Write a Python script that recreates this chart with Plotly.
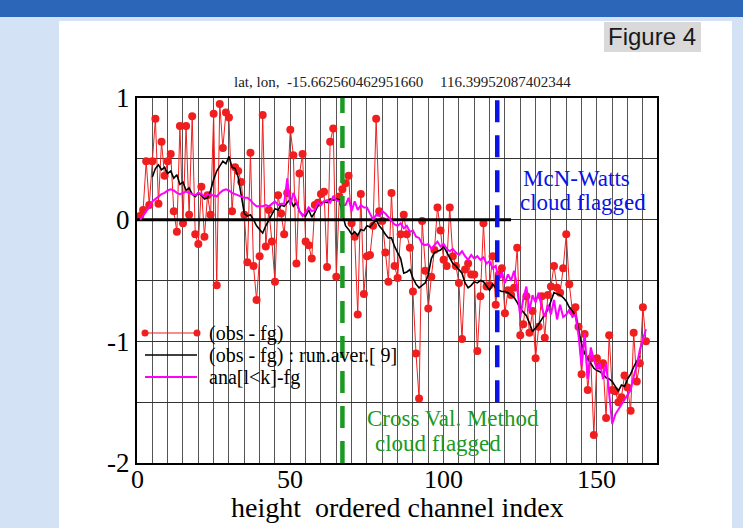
import plotly.graph_objects as go

# ---------------- data ----------------
channels = list(range(1, 167))
obs_minus_fg = [
    0.03, 0.08, 0.48, 0.12, 0.48, 0.83, 0.13, 0.64, 0.36, 0.48,
    0.54, 0.07, -0.10, 0.77, -0.03, 0.77, 0.04, 0.85, -0.12, -0.20,
    0.27, -0.14, 0.20, 0.04, 0.87, -0.54, 0.95, 0.59, 0.88, 0.84,
    0.07, 0.43, 0.40, 0.31, 0.04, -0.35, 0.55, -0.38, -0.66, -0.30,
    0.86, -0.22, 0.08, -0.18, -0.51, 0.20, 0.05, -0.12, 0.22, 0.74,
    0.53, -0.36, 0.38, 0.54, -0.18, -0.21, -0.32, 0.12, 0.14, 0.21,
    0.23, -0.39, 0.64, 0.75, -0.47, 0.19, 0.25, 0.30, 0.36, -0.03,
    -0.14, -0.78, 0.21, -0.61, -0.30, -0.29, -0.05, 0.83, 0.07, -0.01,
    -0.27, -0.51, 0.22, -0.38, -0.48, -0.12, 0.04, -0.12, -0.23, -0.59,
    -1.10, -1.47, -0.01, -0.42, -0.73, -0.47, -0.25, 0.10, -0.09, -0.33,
    -0.38, 0.10, -0.30, -0.38, -0.52, -0.98, -0.41, -0.36, -0.45, -0.45,
    -1.08, -0.63, -0.03, -0.55, -0.54, -0.30, -0.70, -0.45, -0.40, -0.77,
    -0.58, -0.62, -0.56, -0.23, -0.95, -0.86, -0.63, -0.93, -0.75, -1.14,
    -0.88, -0.63, -0.97, -0.62, -0.55, -0.38, -0.56, -0.60, -0.40, -0.12,
    -0.53, -0.75, -0.72, -0.88, -1.27, -0.94, -1.40, -1.14, -1.77, -1.14,
    -1.20, -1.18, -1.63, -0.95, -1.40, -1.41, -1.50, -1.46, -1.28, -1.38,
    -1.57, -0.93, -1.33, -1.18, -0.72, -1.00,
]

run_aver_x = list(range(5, 165))
run_aver_9 = [
    0.35, 0.42, 0.45, 0.41, 0.43, 0.38, 0.40, 0.34, 0.37, 0.29,
    0.31, 0.24, 0.26, 0.21, 0.19, 0.22, 0.20, 0.17, 0.18, 0.24,
    0.33, 0.40, 0.44, 0.48, 0.46, 0.52, 0.43, 0.42, 0.35, 0.20,
    0.05, 0.03, 0.04, 0.00, -0.05, -0.08, -0.11, -0.05, 0.00, 0.05,
    0.09, 0.08, 0.12, 0.11, 0.14, 0.17, 0.11, 0.14, 0.07, 0.04,
    0.03, 0.08, 0.02, 0.06, 0.12, 0.13, 0.15, 0.14, 0.17, 0.16,
    0.17, 0.16, 0.05, -0.05, -0.08, -0.12, -0.10, -0.13, -0.08, -0.09,
    -0.05, -0.06, -0.03, 0.00, -0.05, -0.08, -0.12, -0.15, -0.15, -0.22,
    -0.27, -0.32, -0.44, -0.43, -0.41, -0.48, -0.53, -0.56, -0.54, -0.52,
    -0.45, -0.32, -0.27, -0.26, -0.25, -0.22, -0.27, -0.31, -0.36, -0.38,
    -0.41, -0.44, -0.52, -0.56, -0.54, -0.51, -0.52, -0.50, -0.51, -0.55,
    -0.58, -0.53, -0.56, -0.58, -0.59, -0.59, -0.60, -0.62, -0.64, -0.68,
    -0.73, -0.76, -0.79, -0.85, -0.92, -0.89, -0.86, -0.82, -0.78, -0.74,
    -0.67, -0.60, -0.61, -0.62, -0.64, -0.67, -0.72, -0.75, -0.79, -0.92,
    -1.02, -1.10, -1.14, -1.19, -1.22, -1.24, -1.25, -1.27, -1.30, -1.31,
    -1.33, -1.37, -1.41, -1.36, -1.37, -1.31, -1.27, -1.21, -1.16, -1.12,
]

ana_minus_fg = [
    0.00, 0.03, 0.07, 0.10, 0.15, 0.17, 0.19, 0.21, 0.22, 0.24,
    0.25, 0.24, 0.22, 0.21, 0.22, 0.23, 0.22, 0.21, 0.20, 0.22,
    0.21, 0.19, 0.21, 0.20, 0.20, 0.19, 0.22, 0.24, 0.25, 0.24,
    0.22, 0.21, 0.20, 0.19, 0.18, 0.18, 0.16, 0.13, 0.11, 0.11,
    0.11, 0.12, 0.11, 0.13, 0.15, 0.12, 0.13, 0.13, 0.34, 0.12,
    0.22, 0.15, 0.07, 0.03, 0.06, 0.10, 0.07, 0.08, 0.14, 0.12,
    0.15, 0.16, 0.14, 0.19, 0.16, 0.15, 0.12, 0.12, 0.18, 0.07,
    0.15, 0.08, 0.12, 0.10, 0.10, 0.05, 0.00, 0.04, 0.03, 0.07,
    0.05, 0.02, -0.01, -0.04, -0.05, -0.03, -0.07, -0.05, -0.10, -0.09,
    -0.14, -0.15, -0.20, -0.21, -0.20, -0.24, -0.21, -0.18, -0.22, -0.20,
    -0.24, -0.26, -0.24, -0.27, -0.29, -0.26, -0.30, -0.33, -0.29, -0.32,
    -0.30, -0.33, -0.31, -0.36, -0.34, -0.40, -0.38, -0.50, -0.43, -0.52,
    -0.45, -0.50, -0.42, -0.55, -0.80, -0.65, -0.55, -0.75, -0.62, -0.68,
    -0.60, -0.72, -0.80, -0.70, -0.78, -0.66, -0.82, -0.70, -0.80, -0.78,
    -0.74, -0.80, -0.78, -0.95, -1.20, -0.93, -1.31, -1.05, -1.15, -1.23,
    -1.18, -1.31, -1.18, -1.42, -1.68, -1.60, -1.56, -1.52, -1.48, -1.44,
    -1.40, -1.29, -1.20, -1.07, -0.98, -0.90,
]

zero_line_x = [0, 122]
zero_line_y = [0, 0]
crossval_flag_channel = 67
crossval_flag_y = [-2, 1]
mcn_watts_flag_channel = 117.5
mcn_watts_flag_y = [-1.5, 1]

x_tick_vals = [0, 50, 100, 150]
x_tick_text = ["0", "50", "100", "150"]
y_tick_vals = [-2, -1, 0, 1]
y_tick_text = ["-2", "-1", "0", "1"]

title_lat = "lat, lon,  -15.662560462951660"
title_lon = "116.39952087402344"
legend_labels = ["(obs - fg)", "(obs - fg) : run.aver.[ 9]", "ana[l<k]-fg"]

# ---------------- styling ----------------
SERIF = "Liberation Serif, Times New Roman, serif"
RED = "#F01E1E"
MAGENTA = "#FF00FF"
GREEN = "#1A9A22"
BLUE = "#0A14E6"

W, H = 743, 528
PL, PR, PT, PB = 137, 657, 98, 463  # plot area in pixels


def px(x):
    return (x - PL) / (PR - PL)


def py(y):
    return (PB - y) / (PB - PT)


fig = go.Figure()

fig.add_trace(go.Scatter(
    x=channels, y=obs_minus_fg, mode="lines+markers",
    line=dict(color=RED, width=1),
    marker=dict(color=RED, size=8),
    showlegend=False, hoverinfo="skip"))
fig.add_trace(go.Scatter(
    x=zero_line_x, y=zero_line_y, mode="lines",
    line=dict(color="black", width=3), showlegend=False, hoverinfo="skip"))
fig.add_trace(go.Scatter(
    x=run_aver_x, y=run_aver_9, mode="lines",
    line=dict(color="black", width=1.6), showlegend=False, hoverinfo="skip"))
fig.add_trace(go.Scatter(
    x=channels, y=ana_minus_fg, mode="lines",
    line=dict(color=MAGENTA, width=2), showlegend=False, hoverinfo="skip"))
fig.add_trace(go.Scatter(
    x=[crossval_flag_channel] * 2, y=crossval_flag_y, mode="lines",
    line=dict(color=GREEN, width=4.5, dash="22px,13px"),
    showlegend=False, hoverinfo="skip"))
fig.add_trace(go.Scatter(
    x=[mcn_watts_flag_channel] * 2, y=mcn_watts_flag_y, mode="lines",
    line=dict(color=BLUE, width=4.5, dash="22px,13px"),
    showlegend=False, hoverinfo="skip"))

shapes = []
# page decoration
shapes.append(dict(type="rect", xref="paper", yref="paper",
                   x0=px(59), x1=px(732), y0=py(528), y1=py(21),
                   fillcolor="white", line=dict(width=0), layer="below"))
shapes.append(dict(type="rect", xref="paper", yref="paper",
                   x0=px(0), x1=px(743), y0=py(17), y1=py(0),
                   fillcolor="#2B66B9", line=dict(width=0), layer="below"))
shapes.append(dict(type="rect", xref="paper", yref="paper",
                   x0=px(604), x1=px(701), y0=py(52), y1=py(22),
                   fillcolor="#D9D9D9", line=dict(width=0), layer="below"))
# white boxes covering the grid
for (a, b, c, d) in [(137, 397, 316, 392), (513, 655, 161, 219), (347, 580, 404, 462)]:
    shapes.append(dict(type="rect", xref="paper", yref="paper",
                       x0=px(a), x1=px(b), y0=py(d), y1=py(c),
                       fillcolor="white", line=dict(width=0), layer="between"))
# custom legend samples
leg_rows = [333, 355, 377]
leg_colors = [RED, "black", MAGENTA]
leg_widths = [1, 1.6, 2]
for yy, col, lw in zip(leg_rows, leg_colors, leg_widths):
    shapes.append(dict(type="line", xref="paper", yref="paper",
                       x0=px(145), x1=px(197), y0=py(yy), y1=py(yy),
                       line=dict(color=col, width=lw), layer="above"))
for xx in (145, 197):
    shapes.append(dict(type="circle", xref="paper", yref="paper",
                       x0=px(xx - 3.5), x1=px(xx + 3.5),
                       y0=py(leg_rows[0] + 3.5), y1=py(leg_rows[0] - 3.5),
                       fillcolor=RED, line=dict(width=0), layer="above"))

annotations = []
for yy, txt in zip(leg_rows, legend_labels):
    annotations.append(dict(xref="paper", yref="paper", x=px(207), y=py(yy),
                            text=txt, showarrow=False, xanchor="left", yanchor="middle",
                            font=dict(family=SERIF, size=20, color="black")))
# x tick labels placed just under the axis
for tv, tt in zip(x_tick_vals, x_tick_text):
    annotations.append(dict(xref="x", yref="paper", x=tv, y=py(480), text=tt,
                            showarrow=False, xanchor="center", yanchor="middle",
                            font=dict(family=SERIF, size=26, color="black")))
annotations += [
    dict(xref="paper", yref="paper", x=px(232), y=py(82), text=title_lat,
         showarrow=False, xanchor="left", yanchor="middle",
         font=dict(family=SERIF, size=15, color="#222")),
    dict(xref="paper", yref="paper", x=px(438), y=py(82), text=title_lon,
         showarrow=False, xanchor="left", yanchor="middle",
         font=dict(family=SERIF, size=15, color="#222")),
    dict(xref="paper", yref="paper", x=px(652), y=py(37), text="Figure 4",
         showarrow=False, xanchor="center", yanchor="middle",
         font=dict(family="Liberation Sans, Arial, sans-serif", size=24, color="#1a1a1a")),
    dict(xref="paper", yref="paper", x=px(397), y=py(507),
         text="height\u00a0\u00a0ordered\u00a0channel\u00a0index",
         showarrow=False, xanchor="center", yanchor="middle",
         font=dict(family=SERIF, size=28, color="black")),
    dict(xref="paper", yref="paper", x=px(521), y=py(178), text="McN-Watts",
         showarrow=False, xanchor="left", yanchor="middle",
         font=dict(family=SERIF, size=23, color=BLUE)),
    dict(xref="paper", yref="paper", x=px(518), y=py(202), text="cloud flagged",
         showarrow=False, xanchor="left", yanchor="middle",
         font=dict(family=SERIF, size=23, color=BLUE)),
    dict(xref="paper", yref="paper", x=px(365), y=py(418), text="Cross Val. Method",
         showarrow=False, xanchor="left", yanchor="middle",
         font=dict(family=SERIF, size=23, color=GREEN)),
    dict(xref="paper", yref="paper", x=px(373), y=py(443), text="cloud flagged",
         showarrow=False, xanchor="left", yanchor="middle",
         font=dict(family=SERIF, size=23, color=GREEN)),
]

fig.update_layout(
    width=W, height=H, autosize=False,
    margin=dict(l=PL, r=W - PR, t=PT, b=H - PB, pad=0),
    paper_bgcolor="#D4E2F6", plot_bgcolor="rgba(0,0,0,0)",
    shapes=shapes, annotations=annotations, showlegend=False,
    xaxis=dict(range=[0, 169.6], tickvals=x_tick_vals, ticktext=x_tick_text,
               showticklabels=False, showgrid=False, zeroline=False,
               minor=dict(dtick=5, tick0=0, showgrid=True, gridcolor="#555", gridwidth=1),
               showline=True, mirror=True, linecolor="black", linewidth=2,
               ticks=""),
    yaxis=dict(range=[-2, 1], tickvals=y_tick_vals, ticktext=y_tick_text,
               showgrid=True, gridcolor="#333", gridwidth=1, zeroline=False,
               minor=dict(dtick=0.5, tick0=0, showgrid=True, gridcolor="#333", gridwidth=1),
               showline=True, mirror=True, linecolor="black", linewidth=2,
               ticks="", ticklabelstandoff=0,
               tickfont=dict(family=SERIF, size=27, color="black")),
)

fig.write_html("out.html")
